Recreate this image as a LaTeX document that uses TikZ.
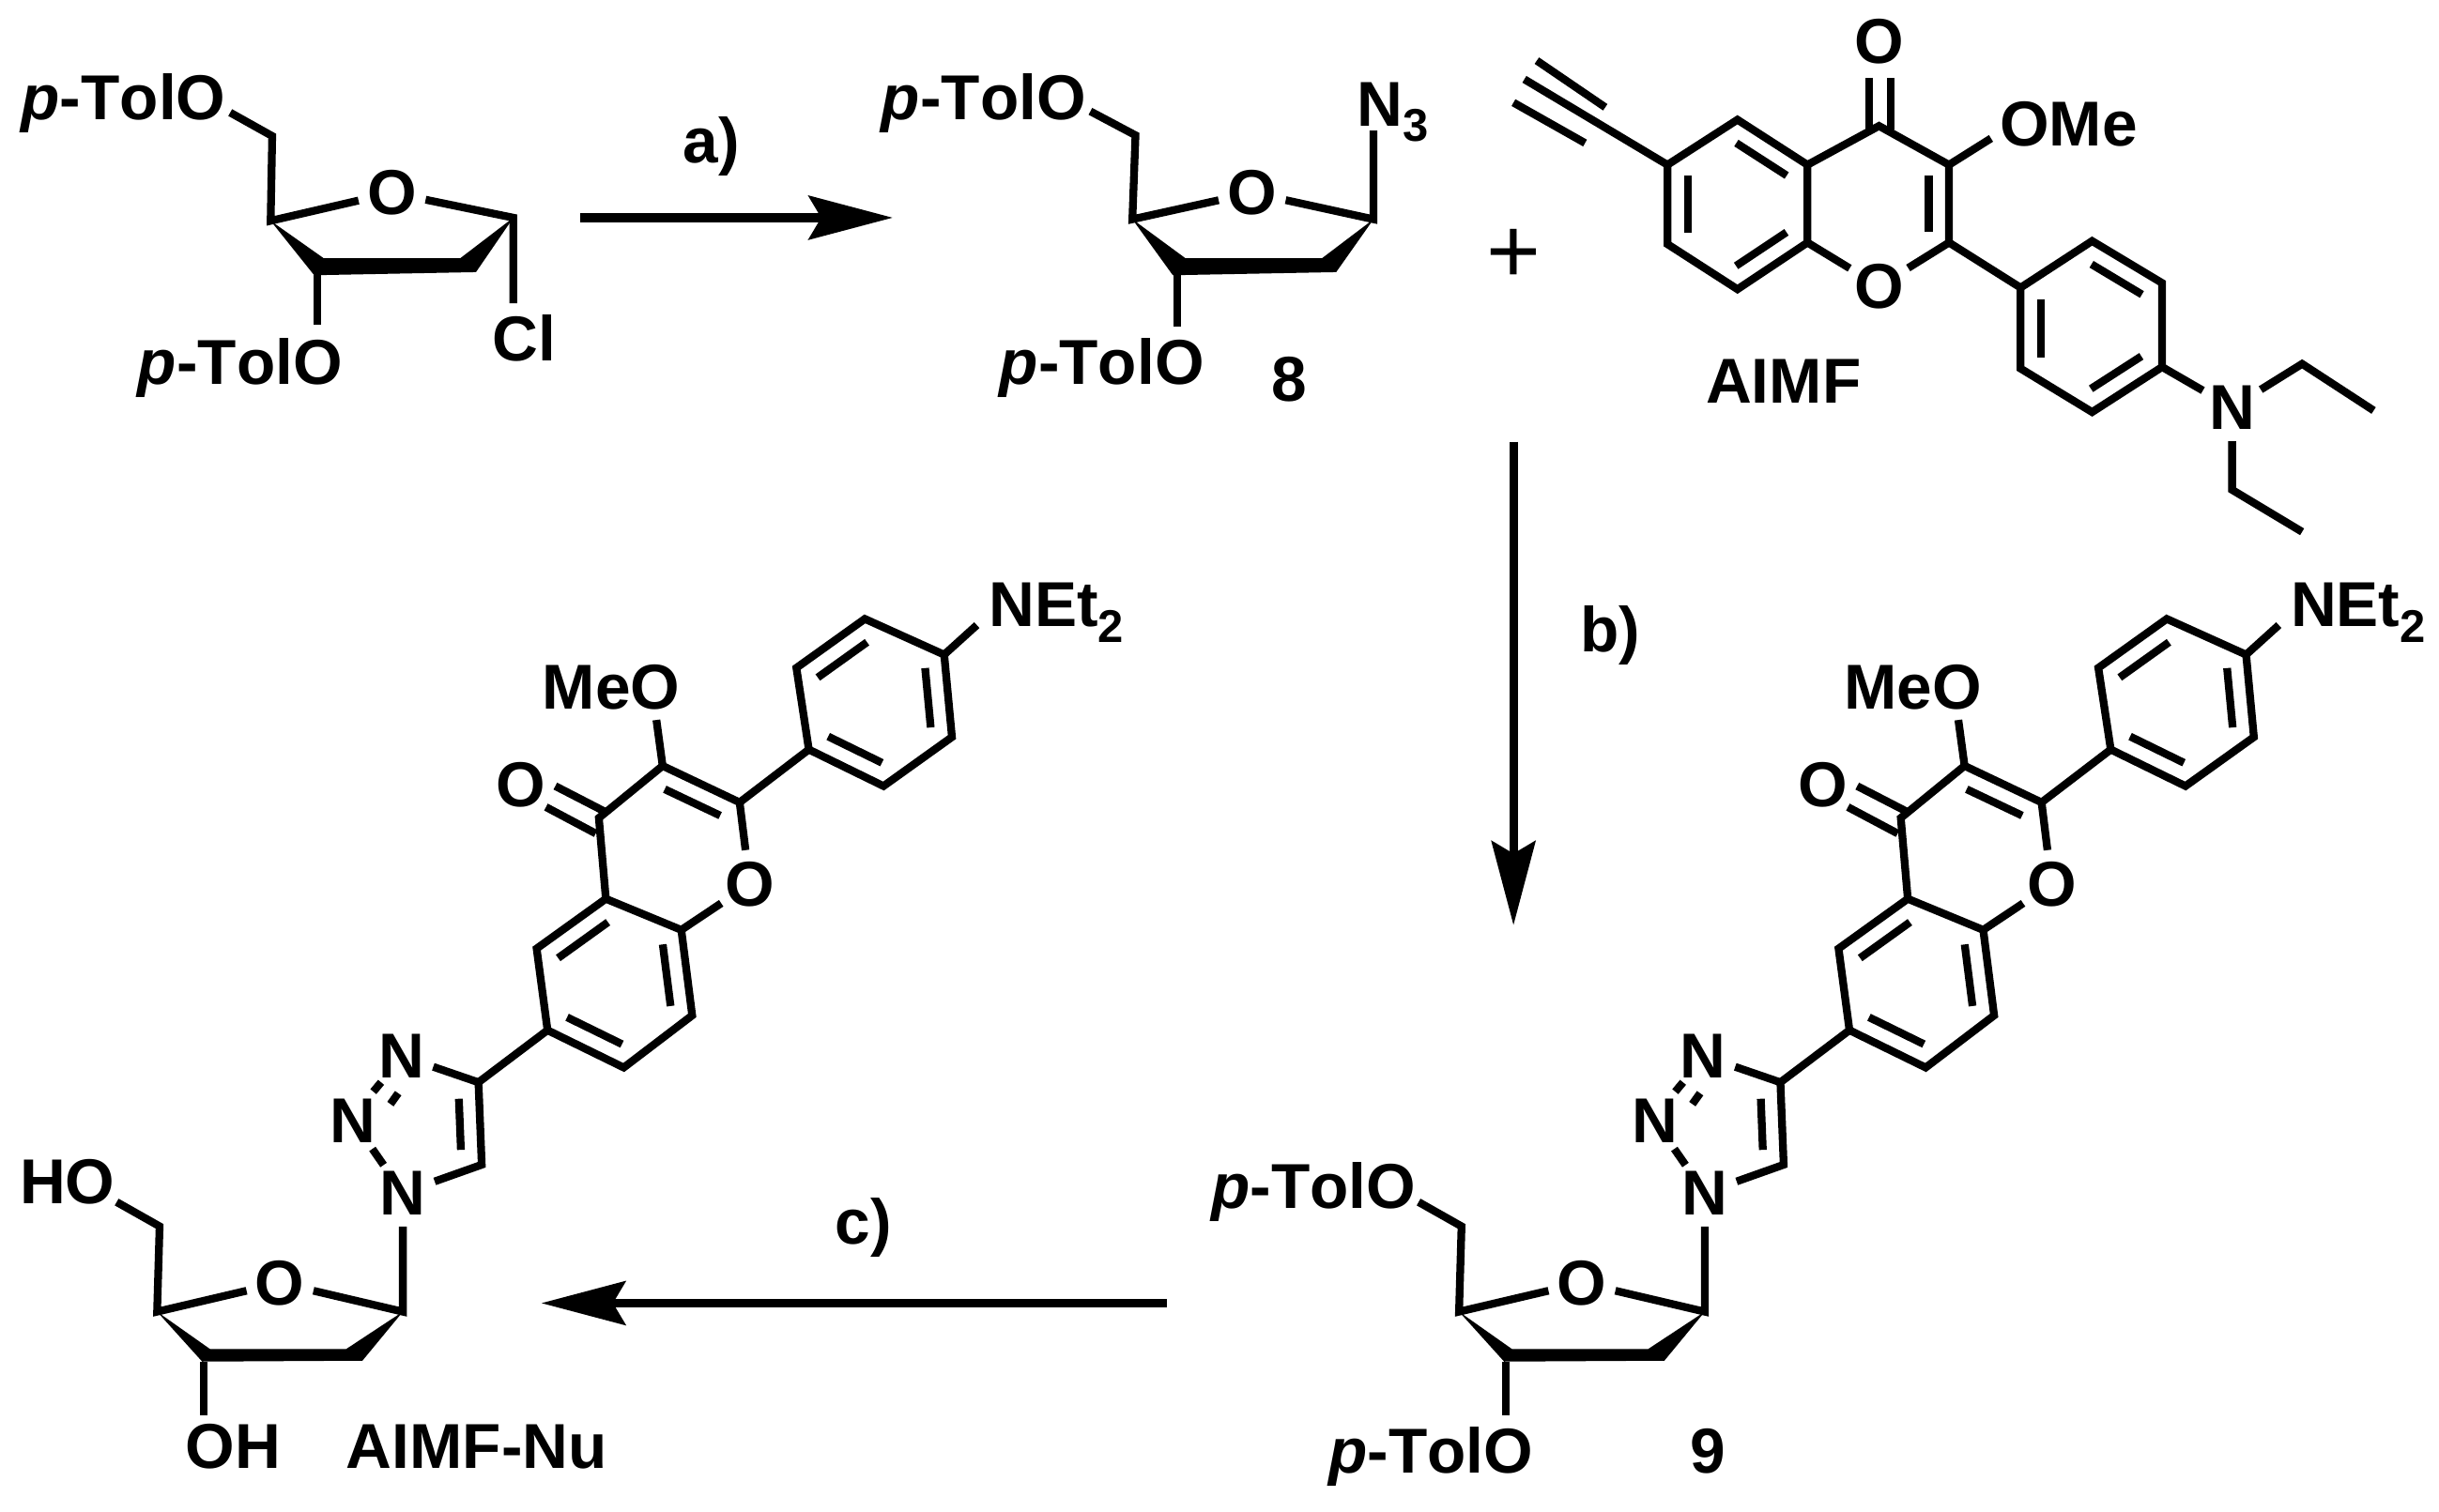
\documentclass[tikz,border=0pt]{standalone}
\usepackage{fontspec}
\setmainfont{Liberation Sans}[Kerning=Off]
\usetikzlibrary{arrows.meta,calc}
\tikzset{
    bond/.style={line width=0.05cm, line join=miter},
    rxn/.style={line width=0.055cm, -{Stealth[length=0.54cm,width=0.28cm,inset=0.08cm]}},
    lbl/.style={font=\fontsize{11.6}{14}\selectfont\bfseries, inner sep=0pt},
    atom/.style={lbl, circle, minimum size=0.42cm},
    rxnlbl/.style={lbl}
}
\newcommand{\ptol}{{\itshape p}-TolO}
\newcommand{\sbs}[1]{\raisebox{-2.8pt}{\fontsize{8.4}{10}\selectfont #1}}
\newcommand{\innerbond}[3][.14]{\draw[bond] ($(#2)!#1!(#3)!.13cm!90:(#3)$) -- ($(#3)!#1!(#2)!.13cm!-90:(#2)$);}
\begin{document}
\begin{tikzpicture}[x=0.01cm, y=-0.01cm]
        \useasboundingbox (0,0) rectangle (1568,972.3);
        \node[lbl, anchor=base west] (tolA) at (13,77) {\ptol};
        \node[lbl, anchor=base west] (tolB) at (88,247) {\ptol};
        \node[lbl, anchor=base west] (cl) at (316,232) {Cl};
        \coordinate (tolAend) at (148,72.4);
        \coordinate (tolBend) at (204,209);
        \coordinate (clend) at (330,195);
        \coordinate (ch2) at (175,87.5);
        \coordinate (c4) at (174,142);
        \coordinate (c3) at (204,177);
        \coordinate (c1) at (330,140);
        \node[atom] (o) at (252,124) {O};
        \draw[bond] (tolAend) -- (ch2) -- (c4) -- (o);
        \draw[bond] (o) -- (c1) -- (clend);
        \draw[bond] (c3) -- (tolBend);
        \fill (c4) -- (202,177) -- (306,175) -- (c1) -- (296,166) -- (208,166) -- cycle;

        \coordinate (arrowAs) at (373,140);
        \coordinate (arrowAe) at (574,140);
        \draw[rxn] (arrowAs) to node[rxnlbl, above=0.24cm, pos=0.42] (a) {a)} (arrowAe);

        \node[lbl, anchor=base west] (tolC) at (566,77) {\ptol};
        \node[lbl, anchor=base west] (tolD) at (642,247) {\ptol};
        \node[lbl, anchor=base west] (azide) at (872,81) {N\sbs{3}};
        \node[lbl, anchor=base west] (eight) at (817,258) {8};
        \coordinate (tolCend) at (701,71.6);
        \coordinate (tolDend) at (757,210);
        \coordinate (azideend) at (883,84);
        \coordinate (bch2) at (730,87);
        \coordinate (bc4) at (728,141);
        \coordinate (bc3) at (757,177);
        \coordinate (bc1) at (883,141);
        \node[atom] (bo) at (805,124) {O};
        \draw[bond] (tolCend) -- (bch2) -- (bc4) -- (bo);
        \draw[bond] (bo) -- (bc1) -- (azideend);
        \draw[bond] (bc3) -- (tolDend);
        \fill (bc4) -- (754,177) -- (859,175) -- (bc1) -- (850,166) -- (762,166) -- cycle;

        \node[font=\fontsize{17}{20}\selectfont, inner sep=0pt] (plus) at (973,165) {+};

        \coordinate (c6) at (1072,106);
        \coordinate (c5) at (1117,77);
        \coordinate (c4a) at (1162,106);
        \coordinate (c8a) at (1162,156);
        \coordinate (c8) at (1117,186);
        \coordinate (c7) at (1072,157);
        \coordinate (fc4) at (1208,81);
        \coordinate (fc3) at (1253,106);
        \coordinate (fc2) at (1253,156);
        \coordinate (b1) at (1299,185);
        \coordinate (b2) at (1345,155);
        \coordinate (b3) at (1390,182);
        \coordinate (b4) at (1390,236);
        \coordinate (b5) at (1345,265);
        \coordinate (b6) at (1299,237);
        \node[atom] (fo1) at (1208,184) {O};
        \node[atom] (fo) at (1208,27) {O};
        \node[lbl, anchor=base west] (ome) at (1285,94) {OMe};
        \node[atom] (n) at (1435,262) {N};
        \node[lbl, anchor=base west] (aimf) at (1096,259) {AIMF};
        \coordinate (omeend) at (1280,89);
        \coordinate (alkA) at (980,51);
        \coordinate (alkB) at (988,39);
        \coordinate (alkC) at (1032,69);
        \coordinate (alkD) at (973,66);
        \coordinate (alkE) at (1019,92);
        \coordinate (coA) at (1201.5,50);
        \coordinate (coB) at (1201.5,83);
        \coordinate (coC) at (1215.5,50);
        \coordinate (coD) at (1215.5,83);
        \coordinate (etA) at (1480,234);
        \coordinate (etB) at (1526,264);
        \coordinate (etC) at (1435,315);
        \coordinate (etD) at (1480,342);
        \draw[bond] (c6) -- (c5) -- (c4a) -- (c8a) -- (c8) -- (c7) -- cycle;
        \draw[bond] (c4a) -- (fc4) -- (fc3) -- (fc2) -- (fo1) -- (c8a);
        \draw[bond] (b1) -- (b2) -- (b3) -- (b4) -- (b5) -- (b6) -- cycle;
        \draw[bond] (fc2) -- (b1);
        \draw[bond] (fc3) -- (omeend);
        \draw[bond] (alkA) -- (c6);
        \draw[bond] (alkB) -- (alkC);
        \draw[bond] (alkD) -- (alkE);
        \draw[bond] (coA) -- (coB);
        \draw[bond] (coC) -- (coD);
        \draw[bond] (b4) -- (n);
        \draw[bond] (n) -- (etA) -- (etB);
        \draw[bond] (n) -- (etC) -- (etD);
        \innerbond{c6}{c7}
        \innerbond{c8}{c8a}
        \innerbond{c4a}{c5}
        \innerbond{fc2}{fc3}
        \innerbond{b3}{b2}
        \innerbond{b1}{b6}
        \innerbond{b5}{b4}

        \coordinate (arrowBs) at (973,284);
        \coordinate (arrowBe) at (973,595);
        \draw[rxn] (arrowBs) to node[rxnlbl, right=0.4cm, pos=0.4] (b) {b)} (arrowBe);

        \foreach \cmpd/\dx in {nine/0, nu/-837} {
            \begin{scope}[shift={(\dx,0)}, name prefix=\cmpd-]
                \coordinate (r4) at (1444,421);
                \coordinate (r3) at (1393,398);
                \coordinate (r2) at (1349,429.5);
                \coordinate (r1) at (1357,482);
                \coordinate (r6) at (1405,505.5);
                \coordinate (r5) at (1449,474);
                \coordinate (q2) at (1312.5,516);
                \coordinate (q3) at (1263,492.5);
                \coordinate (q4) at (1222,526);
                \coordinate (q4a) at (1226.5,578);
                \coordinate (q8a) at (1275,598);
                \coordinate (q5) at (1182,610);
                \coordinate (q6) at (1189,662.5);
                \coordinate (q7) at (1238,686.5);
                \coordinate (q8) at (1282,653);
                \coordinate (t4) at (1144.6,696);
                \coordinate (t5) at (1146.7,749);
                \coordinate (s1) at (1096,843.5);
                \coordinate (s4) at (938,843.5);
                \coordinate (s3) at (968,876);
                \coordinate (sch2) at (939.6,788.6);
                \coordinate (sOend) at (912,773);
                \coordinate (sBend) at (968,910);
                \coordinate (neteh) at (1465,402);
                \coordinate (moend) at (1259,463);
                \coordinate (coA) at (1194,505.5);
                \coordinate (coB) at (1226,522);
                \coordinate (coC) at (1188,519);
                \coordinate (coD) at (1220,536);
                \coordinate (dsA) at (1082,696);
                \coordinate (dsB) at (1077,702);
                \coordinate (dsC) at (1093,703);
                \coordinate (dsD) at (1088,710);
                \node[atom] (o1) at (1319,568.6) {O};
                \node[atom] (oc) at (1172,505) {O};
                \node[atom] (n1) at (1096,767) {N};
                \node[atom] (n2) at (1064,721) {N};
                \node[atom] (n3) at (1095,679) {N};
                \node[atom] (so) at (1017,825) {O};
                \node[lbl, anchor=base west] (net) at (1472,403) {NEt\sbs{2}};
                \node[lbl, anchor=base west] (meo) at (1185,456) {MeO};
                \draw[bond] (r1) -- (r2) -- (r3) -- (r4) -- (r5) -- (r6) -- cycle;
                \draw[bond] (q2) -- (r1);
                \draw[bond] (r4) -- (neteh);
                \draw[bond] (q3) -- (moend);
                \draw[bond] (q4a) -- (q4) -- (q3) -- (q2) -- (o1) -- (q8a);
                \draw[bond] (q4a) -- (q5) -- (q6) -- (q7) -- (q8) -- (q8a) -- cycle;
                \draw[bond] (coA) -- (coB);
                \draw[bond] (coC) -- (coD);
                \draw[bond] (q6) -- (t4);
                \draw[bond] (n3) -- (t4) -- (t5) -- (n1);
                \draw[bond] (n1) -- (n2);
                \draw[bond] (dsA) -- (dsB);
                \draw[bond] (dsC) -- (dsD);
                \draw[bond] (n1) -- (s1) -- (so) -- (s4) -- (sch2) -- (sOend);
                \draw[bond] (s3) -- (sBend);
                \fill (s4) -- (967,875.6) -- (1070,875) -- (s1) -- (1059.6,867.5) -- (972,867.5) -- cycle;
                \innerbond{r3}{r2}
                \innerbond{r5}{r4}
                \innerbond{r1}{r6}
                \innerbond{q2}{q3}
                \innerbond{q4a}{q5}
                \innerbond{q6}{q7}
                \innerbond{q8}{q8a}
                \innerbond[.19]{t5}{t4}
            \end{scope}
        }

        \node[lbl, anchor=base west] (tolE) at (778,777) {\ptol};
        \node[lbl, anchor=base west] (tolF) at (853.5,947) {\ptol};
        \node[lbl, anchor=base west] (nine) at (1086,947) {9};
        \node[lbl, anchor=base west] (ho) at (12,774) {HO};
        \node[lbl, anchor=base west] (oh) at (118.5,944) {OH};
        \node[lbl, anchor=base west] (aimfnu) at (222,944) {AIMF-Nu};

        \coordinate (arrowCs) at (750,838);
        \coordinate (arrowCe) at (348,838);
        \draw[rxn] (arrowCs) to node[rxnlbl, above=0.27cm, pos=0.485] (c) {c)} (arrowCe);
\end{tikzpicture}
\end{document}
